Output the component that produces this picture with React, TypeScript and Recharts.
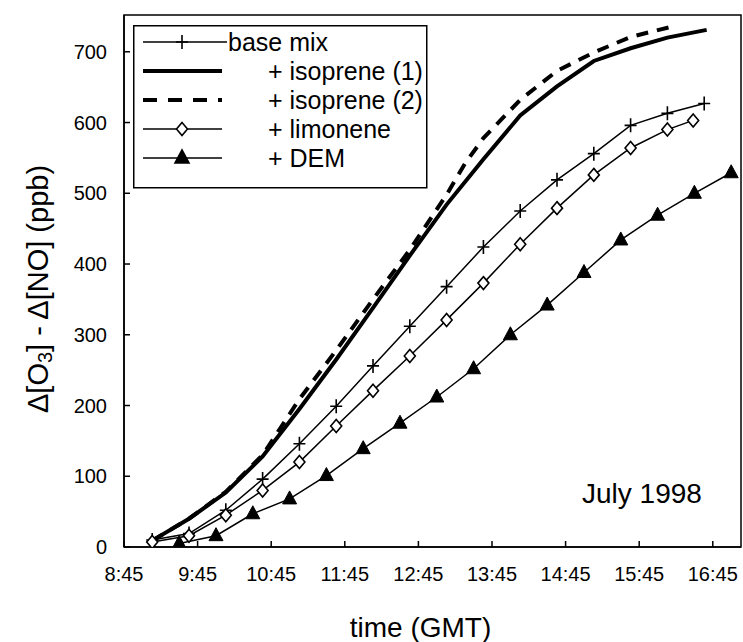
import React from "react";
import {
  LineChart,
  Line,
  XAxis,
  YAxis,
  Legend,
  ReferenceArea,
  Customized,
} from "recharts";

const FONT = '"Liberation Sans", Arial, Helvetica, sans-serif';

// sampling times in minutes after midnight (GMT), values in ppb
const baseMixTimes = [548, 578, 608, 638, 668, 698, 728, 758, 788, 818, 848, 878, 908, 938, 968, 998];
const baseMixValues = [10, 19, 52, 96, 146, 199, 256, 312, 368, 424, 475, 519, 556, 596, 613, 627];

const isoprene1Times = [548, 578, 608, 638, 668, 698, 728, 758, 788, 818, 848, 878, 908, 938, 968, 1000];
const isoprene1Values = [9, 40, 77, 128, 195, 265, 338, 412, 484, 548, 610, 651, 687, 705, 720, 731];

const isoprene2Times = [548, 578, 608, 638, 668, 698, 728, 758, 788, 803, 818, 848, 878, 908, 938, 975];
const isoprene2Values = [9, 40, 78, 130, 209, 278, 350, 420, 498, 542, 578, 632, 673, 699, 721, 737];

const limoneneTimes = [548, 578, 608, 638, 668, 698, 728, 758, 788, 818, 848, 878, 908, 938, 968, 989];
const limoneneValues = [7, 16, 45, 80, 120, 171, 221, 270, 321, 373, 428, 479, 526, 564, 590, 603];

const demTimes = [570, 600, 630, 660, 690, 720, 750, 780, 810, 840, 870, 900, 930, 960, 990, 1020];
const demValues = [5, 16, 47, 68, 101, 139, 175, 212, 252, 300, 342, 388, 434, 469, 500, 529];

const xTicks = [525, 585, 645, 705, 765, 825, 885, 945, 1005];
const yTicks = [0, 100, 200, 300, 400, 500, 600, 700];

const toPoints = (times: number[], values: number[]) =>
  times.map((t, i) => ({ t, v: values[i] }));

const fmtTime = (m: number) =>
  `${Math.floor(m / 60)}:${String(m % 60).padStart(2, "0")}`;

// markers
const plusPath = (cx: number, cy: number) =>
  `M${cx - 6},${cy}H${cx + 6}M${cx},${cy - 7}V${cy + 7}`;
const diamondPath = (cx: number, cy: number) =>
  `M${cx},${cy - 6.5}L${cx + 5.5},${cy}L${cx},${cy + 6.5}L${cx - 5.5},${cy}Z`;
const trianglePath = (cx: number, cy: number) =>
  `M${cx},${cy - 8}L${cx + 7},${cy + 5}L${cx - 7},${cy + 5}Z`;

const PlusDot = (p: any) => (
  <path key={`p${p.index}`} d={plusPath(p.cx, p.cy)} stroke="#000" strokeWidth={1.6} fill="none" />
);
const DiamondDot = (p: any) => (
  <path key={`d${p.index}`} d={diamondPath(p.cx, p.cy)} stroke="#000" strokeWidth={1.6} fill="#fff" />
);
const TriangleDot = (p: any) => (
  <path key={`t${p.index}`} d={trianglePath(p.cx, p.cy)} stroke="#000" strokeWidth={1} fill="#000" />
);

const LEGEND_ROWS = [
  { label: "base mix", textX: 95, lineEnd: 94, width: 1.5, dash: undefined, marker: plusPath },
  { label: "+ isoprene (1)", textX: 135, lineEnd: 89, width: 4, dash: undefined, marker: null },
  { label: "+ isoprene (2)", textX: 135, lineEnd: 89, width: 4, dash: "14 11", marker: null },
  { label: "+ limonene", textX: 135, lineEnd: 89, width: 1.5, dash: undefined, marker: diamondPath },
  { label: "+ DEM", textX: 135, lineEnd: 89, width: 1.5, dash: undefined, marker: trianglePath },
];

const LegendBox = () => (
  <svg width={295} height={164} style={{ display: "block" }}>
    <rect x={0.75} y={0.75} width={293} height={162} fill="#fff" stroke="#000" strokeWidth={1.5} />
    {LEGEND_ROWS.map((row, i) => {
      const y = 17 + i * 29;
      return (
        <g key={row.label}>
          <line x1={10} x2={row.lineEnd} y1={y} y2={y} stroke="#000" strokeWidth={row.width} strokeDasharray={row.dash} />
          {row.marker && (
            <path
              d={row.marker(49, y)}
              stroke="#000"
              strokeWidth={1.6}
              fill={row.marker === trianglePath ? "#000" : "#fff"}
            />
          )}
          <text x={row.textX} y={y} dominantBaseline="central" fontSize={25} fontFamily={FONT}>
            {row.label}
          </text>
        </g>
      );
    })}
  </svg>
);

const YLabel = ({ viewBox }: any) => {
  const cx = viewBox.x + 38;
  const cy = viewBox.y + viewBox.height / 2 + 8;
  return (
    <text
      x={cx}
      y={cy}
      transform={`rotate(-90 ${cx} ${cy})`}
      textAnchor="middle"
      dominantBaseline="central"
      fontSize={29}
      fontFamily={FONT}
    >
      Δ[O<tspan dy={7} fontSize={20}>3</tspan>
      <tspan dy={-7}>] - Δ[NO] (ppb)</tspan>
    </text>
  );
};

const XLabel = ({ viewBox }: any) => (
  <text
    x={viewBox.x + viewBox.width / 2 - 12}
    y={viewBox.y + viewBox.height - 5}
    textAnchor="middle"
    fontSize={28}
    fontFamily={FONT}
  >
    time (GMT)
  </text>
);

const tickStyle = { fill: "#000", fontSize: 20, fontFamily: FONT };
const axisStroke = { stroke: "#000", strokeWidth: 1.5 };

export default function App() {
  return (
    <div style={{ position: "absolute", left: 0, top: 0, background: "#fff" }}>
      <LineChart width={743} height={642} margin={{ top: 15, right: 2, bottom: 0, left: 0 }}>
        <XAxis
          dataKey="t"
          type="number"
          domain={[525, 1028]}
          ticks={xTicks}
          tickFormatter={fmtTime}
          allowDataOverflow
          height={95}
          tickSize={-6}
          tickMargin={26}
          tick={tickStyle}
          axisLine={axisStroke}
          tickLine={axisStroke}
          label={<XLabel />}
        />
        <YAxis
          type="number"
          domain={[0, 752]}
          ticks={yTicks}
          allowDataOverflow
          width={124}
          tickSize={-6}
          tickMargin={23}
          tick={tickStyle}
          axisLine={axisStroke}
          tickLine={axisStroke}
          label={<YLabel />}
        />
        <ReferenceArea
          x1={525}
          x2={1028}
          y1={0}
          y2={752}
          fill="none"
          stroke="#000"
          strokeWidth={1.5}
          ifOverflow="visible"
        />
        <Line
          name="base mix"
          data={toPoints(baseMixTimes, baseMixValues)}
          dataKey="v"
          type="linear"
          stroke="#000"
          strokeWidth={1.5}
          dot={PlusDot}
          activeDot={false}
          isAnimationActive={false}
        />
        <Line
          name="+ isoprene (1)"
          data={toPoints(isoprene1Times, isoprene1Values)}
          dataKey="v"
          type="linear"
          stroke="#000"
          strokeWidth={4}
          dot={false}
          activeDot={false}
          isAnimationActive={false}
        />
        <Line
          name="+ isoprene (2)"
          data={toPoints(isoprene2Times, isoprene2Values)}
          dataKey="v"
          type="linear"
          stroke="#000"
          strokeWidth={4}
          strokeDasharray="12 9"
          dot={false}
          activeDot={false}
          isAnimationActive={false}
        />
        <Line
          name="+ limonene"
          data={toPoints(limoneneTimes, limoneneValues)}
          dataKey="v"
          type="linear"
          stroke="#000"
          strokeWidth={1.5}
          dot={DiamondDot}
          activeDot={false}
          isAnimationActive={false}
        />
        <Line
          name="+ DEM"
          data={toPoints(demTimes, demValues)}
          dataKey="v"
          type="linear"
          stroke="#000"
          strokeWidth={1.5}
          dot={TriangleDot}
          activeDot={false}
          isAnimationActive={false}
        />
        <Legend
          layout="vertical"
          align="center"
          verticalAlign="middle"
          content={<LegendBox />}
          wrapperStyle={{ left: 133, top: 25, width: 295, height: 164 }}
        />
        <Customized
          component={() => (
            <text x={582} y={503} fontSize={28} fontFamily={FONT} fill="#000">
              July 1998
            </text>
          )}
        />
      </LineChart>
    </div>
  );
}
